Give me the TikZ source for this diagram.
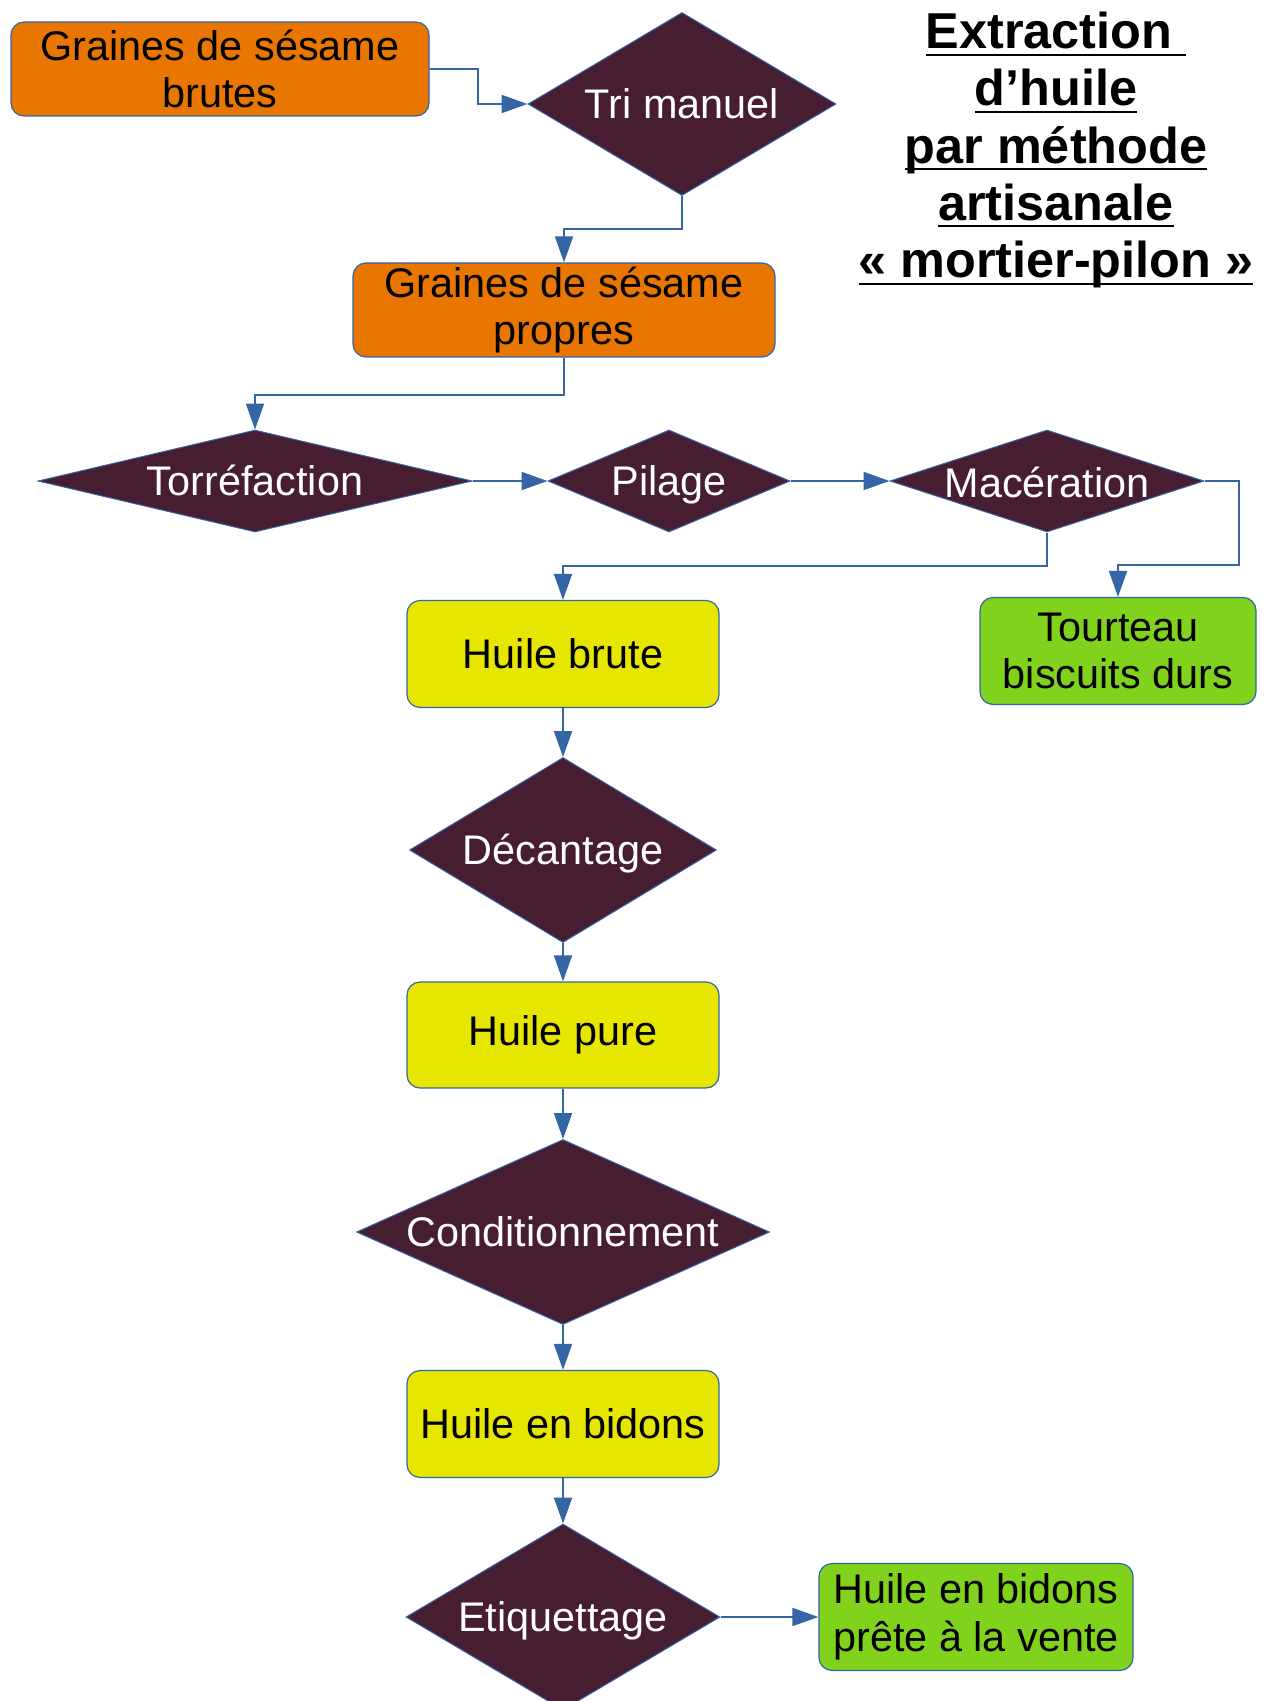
\documentclass[tikz,border=0pt]{standalone}
\usepackage{fontspec}
\setmainfont{Liberation Sans}
\usetikzlibrary{shapes.geometric,arrows.meta}
\definecolor{bleu}{RGB}{52,101,164}
\definecolor{orangeg}{RGB}{232,118,0}
\definecolor{lie}{RGB}{71,29,49}
\definecolor{jaune}{RGB}{230,230,0}
\definecolor{vert}{RGB}{128,210,28}
\newsavebox{\soulbox}
\newcommand{\souligne}[1]{\sbox{\soulbox}{#1}\rlap{\rule[-3.6pt]{\wd\soulbox}{1pt}}\usebox{\soulbox}}
\begin{document}
\begin{tikzpicture}[x=0.5pt,y=-0.5pt,
  font=\fontsize{20.7}{23.9}\selectfont,
  produit/.style={draw=bleu,line width=0.6pt,rounded corners=6.5pt,align=center,inner sep=1pt},
  etape/.style={diamond,draw=bleu,line width=0.5pt,fill=lie,text=white,inner sep=0pt,text height=18pt,text depth=3.5pt},
  fleche/.style={draw=bleu,line width=1pt,-{Triangle[length=13pt,width=9pt]}},
  titre/.style={align=center,font=\fontsize{25.2}{28.6}\selectfont\bfseries}]
\useasboundingbox (0,0) rectangle (1265,1701);
\node(brutes)[produit,fill=orangeg,minimum width=209pt,minimum height=47pt] at (220,69){Graines de sésame\\brutes};
\node(tri)[etape,aspect=1.68,minimum width=154pt,minimum height=91.5pt] at (682,104){Tri manuel};
\node(propres)[produit,fill=orangeg,minimum width=211pt,minimum height=47pt] at (564,310){Graines de sésame\\propres};
\node(titre)[titre] at (1056,150){\souligne{Extraction\ }\\\souligne{d’huile}\\\souligne{par méthode}\\\souligne{artisanale}\\\souligne{« mortier-pilon »}};
\node(torref)[etape,aspect=4.25,minimum width=217pt,minimum height=51pt] at (255,481){Torréfaction};
\node(pilage)[etape,aspect=2.37,minimum width=121pt,minimum height=51pt] at (669,481){Pilage};
\node(maceration)[etape,aspect=3.15,text height=16pt,text depth=0pt,minimum width=157pt,minimum height=51pt] at (1047,481){Macération};
\node(huile-brute)[produit,fill=jaune,minimum width=156pt,minimum height=53.5pt] at (563,654){Huile brute};
\node(tourteau)[produit,fill=vert,minimum width=138pt,minimum height=53.5pt] at (1118,651){Tourteau\\biscuits durs};
\node(decantage)[etape,aspect=1.66,minimum width=153.5pt,minimum height=92.5pt] at (563,850){Décantage};
\node(huile-pure)[produit,fill=jaune,minimum width=156pt,minimum height=53pt] at (563,1035){Huile pure};
\node(conditionnement)[etape,aspect=2.23,minimum width=206.5pt,minimum height=92.5pt] at (563,1232){Conditionnement};
\node(huile-bidons)[produit,fill=jaune,minimum width=156pt,minimum height=53.5pt] at (563,1424){Huile en bidons};
\node(etiquettage)[etape,aspect=1.69,minimum width=157pt,minimum height=93pt] at (563,1617){Etiquettage};
\node(vente)[produit,fill=vert,minimum width=157pt,minimum height=53.5pt] at (976,1617){Huile en bidons\\prête à la vente};
\draw[fleche] (brutes.east) -- ++(48,0) |- (tri.west);
\draw[fleche] (tri.south) -- ++(0,33) -| (propres.north);
\draw[fleche] (propres.south) -- ++(0,37) -| (torref.north);
\draw[fleche] (torref.east) -- (pilage.west);
\draw[fleche] (pilage.east) -- (maceration.west);
\draw[fleche] (maceration.south) -- ++(0,33) -| (huile-brute.north);
\draw[fleche] (maceration.east) -- ++(34,0) -- ++(0,84) -| (tourteau.north);
\draw[fleche] (huile-brute.south) -- (decantage.north);
\draw[fleche] (decantage.south) -- (huile-pure.north);
\draw[fleche] (huile-pure.south) -- (conditionnement.north);
\draw[fleche] (conditionnement.south) -- (huile-bidons.north);
\draw[fleche] (huile-bidons.south) -- (etiquettage.north);
\draw[fleche] (etiquettage.east) -- (vente.west);
\end{tikzpicture}
\end{document}
